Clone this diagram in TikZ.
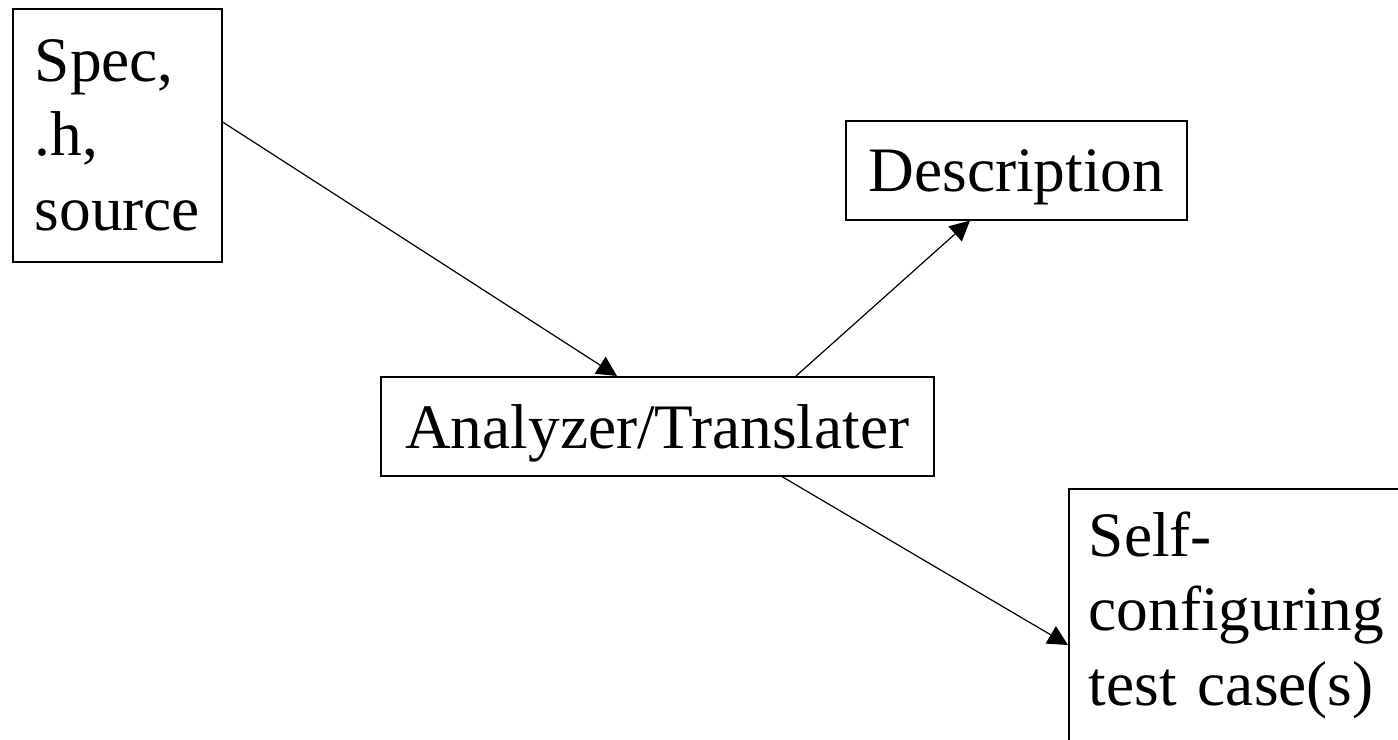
\documentclass[tikz,border=0pt]{standalone}
\usepackage{fontspec}
\setmainfont{Liberation Serif}
\usetikzlibrary{arrows.meta}
\usetikzlibrary{calc}

\begin{document}
\begin{tikzpicture}[x=0.75pt, y=-0.75pt,
    box/.style = {draw=black, line width=1.2pt, inner sep=0pt, anchor=north west,
                  font=\fontsize{47.5}{56}\selectfont},
    flow/.style = {black, line width=0.9pt, -{Triangle[length=15pt, width=15pt]}}]
            \useasboundingbox (0,0) rectangle (1398,739);
            \clip (0,0) rectangle (1398,739);
            \node[box, inner xsep=16.5pt, text width=123.75pt, minimum height=189.75pt, align=left] (spec) at (12,8) {Spec,\\ .h,\\ source};
            \node[box, minimum width=255.75pt, minimum height=74.25pt, text depth=0pt] (desc) at (845,120) {Description};
            \node[box, minimum width=414.75pt, minimum height=74.25pt, text depth=0pt] (anal) at (380,376) {Analyzer/Translater};
            \node[box, inner xsep=15pt, inner ysep=17pt, text width=225pt, align=left] (self) at (1068,488) {Self-\\ configuring\\ test case(s)\rule[-40pt]{0pt}{40pt}};
            \draw[flow] ($(spec.north east)+(0,114)$) -- ($(anal.north west)+(237,0)$);
            \draw[flow] ($(anal.north west)+(416,0)$) -- ($(desc.south west)+(125,0)$);
            \draw[flow] ($(anal.south west)+(402,0)$) -- ($(self.north west)+(0,157)$);
        \end{tikzpicture}
\end{document}
